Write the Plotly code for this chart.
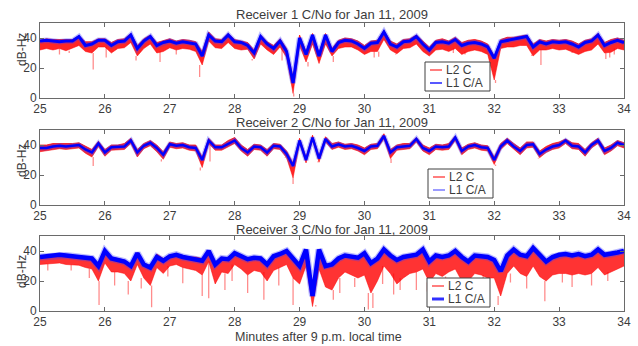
import numpy as np
import plotly.graph_objects as go

# ---------------- data ----------------
# time grid in minutes after 9 p.m. (0.1 min step)
minutes = [round(25.0 + 0.1 * i, 1) for i in range(91)]
x_ticks = [25, 26, 27, 28, 29, 30, 31, 32, 33, 34]
y_ticks = [0, 20, 40]

titles = ["Receiver 1 C/No for Jan 11, 2009",
          "Receiver 2 C/No for Jan 11, 2009",
          "Receiver 3 C/No for Jan 11, 2009"]
series_names = ["L2 C", "L1 C/A"]

# Receiver 1
r1_l1ca = [38, 38.5, 38, 37.5, 38, 38, 41, 35, 36, 38.5,
           38.5, 35, 37.5, 38, 42, 33, 38, 41, 35, 37,
           38, 36.5, 37.5, 37, 36, 28, 42, 38, 37.5, 42,
           37.5, 37, 35, 30, 41, 36, 33, 38, 31, 10,
           40, 29, 42, 28, 42, 31, 37, 38.5, 38, 36,
           33, 36.5, 37, 44, 36, 34, 37.5, 38, 41, 36,
           32, 37, 37.5, 36.5, 39, 35, 36.5, 37, 36, 34,
           26.5, 37.5, 38.5, 39, 40, 41, 34, 37.5, 36, 37.5,
           37, 37.5, 36, 34, 37, 38, 42, 35, 37, 38.5,
           37]
r1_l2c_hi = [38.5, 39.5, 39, 39, 39, 39, 41.5, 37.5, 37.5, 39.5,
             39.5, 37, 39, 39.5, 43, 35, 39.5, 42, 37, 38.5,
             39.5, 38, 39, 38.5, 37.5, 31, 44, 39.5, 39, 43,
             39, 38, 37, 32, 42, 37.5, 35, 39.5, 33, 14,
             42, 31, 43, 30, 43, 33, 38.5, 40, 39.5, 38,
             35, 38, 38.5, 45, 38, 36, 39, 39.5, 42, 38,
             34, 38.5, 39.5, 38, 40.5, 37, 38.5, 39, 38, 36,
             28, 39, 40.5, 40.5, 41.5, 42, 36, 39, 38, 39,
             38.5, 39, 38, 36, 38.5, 39.5, 43, 37, 39, 40,
             38.5]
r1_l2c_lo = [32, 33, 32, 33, 31.5, 33, 35, 31, 30, 34,
             34, 30, 33, 33.5, 37, 28, 33, 36, 30, 31,
             33.5, 32, 33, 32.5, 31, 22, 38, 33.5, 33, 37,
             33, 32, 32.5, 26, 36, 32, 29, 34, 27, 3,
             35, 24, 36, 23, 36, 28, 33, 34, 34, 32,
             29, 31, 31, 39, 32, 29.5, 33, 33.5, 36, 31,
             28, 32, 32.5, 31, 33, 29, 31, 32, 31, 29,
             12, 33, 34, 34, 35, 35, 28, 32, 32, 33,
             32, 32.5, 31, 29, 31, 32, 36, 30, 30.5, 33,
             32]
r1_spike_t = [25.3, 25.45, 25.82, 26.02, 26.48, 26.85, 27.1, 27.46, 28.27, 28.73,
              28.91, 29.13, 29.28, 29.52, 30.15, 30.22, 30.48, 30.97, 31.37, 31.55,
              31.85, 32.02, 32.58, 32.72, 33.2, 33.72, 33.78, 33.85]
r1_spike_min = [29, 30, 19, 27, 25, 24, 29, 14, 25, 25,
                1, 21, 23, 24, 27, 27.5, 29, 28, 30, 29,
                29, 10, 29, 22, 30, 26, 27, 29]

# Receiver 2
r2_l1ca = [38, 38, 39, 39.5, 39, 39.5, 40, 37, 35, 41,
           35, 38.5, 38.5, 39, 43, 35, 39.5, 41.5, 38, 33.5,
           40.5, 39.5, 40, 38.5, 38, 30, 43, 38.5, 38.5, 41,
           43, 38, 35, 39, 38.5, 35, 39.5, 39, 34, 26,
           43, 30, 45, 31, 44, 39, 40.5, 39, 39.5, 38,
           36, 39, 39.5, 46, 35, 38.5, 39, 39.5, 44, 38,
           36, 39, 38.5, 39, 45, 36, 39, 40, 38.5, 38,
           30, 39, 43, 39, 36, 40, 40.5, 34, 37, 39,
           40, 43, 39.5, 39, 35, 40, 43, 36, 38, 41.5,
           40]
r2_l2c_hi = [40, 40, 41, 41, 40.5, 41, 41.5, 39, 37, 42.5,
             37, 40, 40, 41, 44.5, 37, 41, 43, 40, 35.5,
             42, 41, 41.5, 40, 40, 32, 44.5, 40, 40, 43,
             45, 40, 37, 40.5, 40, 37, 41, 40.5, 36, 28,
             44.5, 32, 46.5, 33, 45.5, 41, 42, 40.5, 41, 40,
             38, 40.5, 41, 47.5, 37, 40, 41, 41, 45, 40,
             38, 40.5, 40, 41, 46, 38, 40.5, 41.5, 40, 39.5,
             32, 41, 44.5, 41, 38, 42, 42, 36, 39, 41,
             42, 44, 41.5, 41, 37, 41.5, 44.5, 38, 40, 43,
             41.5]
r2_l2c_lo = [35.5, 36, 37, 37.5, 37, 37.5, 38, 34.5, 32, 39,
             32.5, 36.5, 36.5, 37, 41, 32, 37.5, 39.5, 35.5, 30.5,
             38.5, 37.5, 38, 36.5, 36, 25, 41, 36.5, 36.5, 39,
             41, 36, 32.5, 37, 36.5, 32.5, 37.5, 37, 31.5, 18,
             41, 28, 43, 28.5, 42, 37, 38.5, 37, 37.5, 36,
             33.5, 37, 37.5, 44, 31, 36.5, 37, 37.5, 42, 36,
             33.5, 37, 36.5, 37, 43, 33.5, 37, 38, 36.5, 36,
             27, 37, 41, 37, 33.5, 38, 38.5, 31.5, 35, 37,
             38, 41, 37.5, 37, 32.5, 38, 41, 33.5, 36, 39.5,
             38]
r2_spike_t = [25.82, 26.87, 27.47, 27.62, 28.78, 28.9, 29.14, 29.28, 30.41, 32.02, 32.68]
r2_spike_min = [26, 29, 23, 29, 32, 14, 28, 29, 28, 26, 31]

# Receiver 3
r3_l1ca = [36, 36.5, 37, 37.5, 37, 36.5, 36, 35.5, 35, 30,
           40, 35, 34, 33, 30, 38.5, 31, 29, 36, 33.5,
           36.5, 37.5, 36, 35, 34.5, 33.5, 40, 31, 35, 34.5,
           38.5, 36.5, 34.5, 35.5, 35, 31, 36.5, 38, 40, 35,
           30, 41, 10, 41, 30, 31, 35, 37, 36, 35.5,
           38.5, 32, 35, 41, 37, 34, 36, 37, 37.5, 41,
           33, 37, 36, 37, 40, 36, 33, 37, 36.5, 36,
           34, 26.5, 37, 41, 37.5, 36.5, 42, 37, 33, 36,
           37.5, 38, 37, 38, 36.5, 37.5, 41, 37.5, 38, 39,
           40]
r3_l2c_hi = [36.5, 37, 37.5, 38, 37.5, 37, 37, 36, 35.5, 31,
             41, 36, 35, 34, 31, 39, 32, 30, 38, 35,
             37, 38, 37, 36, 36, 35, 40.5, 32, 36, 35,
             39, 37, 35, 36, 36, 32, 37, 38.5, 40, 36,
             31, 41, 12, 41, 31, 32, 35.5, 37, 36.5, 36,
             39, 33, 35.5, 41, 37.5, 35, 36.5, 37.5, 38, 41,
             34, 37.5, 36.5, 37.5, 40, 36.5, 34, 37.5, 37, 36.5,
             35, 27, 37.5, 41, 38, 37, 42, 37.5, 34, 36.5,
             38, 38.5, 37.5, 38, 37, 38, 41, 38, 38, 39,
             39.5]
r3_l2c_lo = [31, 31.5, 32, 32, 31, 31, 30.5, 29, 28, 20,
             32, 26, 26, 25, 20, 31, 22, 17, 29, 25,
             30, 31, 29, 28, 27, 24, 33, 18, 26, 25,
             31, 28, 24, 27, 26, 20, 27, 29, 31, 22,
             18, 30, 3, 28, 16, 14, 22, 26, 24, 22,
             24, 12, 20, 30, 25, 18, 22, 25, 26, 28,
             19, 25, 23, 26, 28, 20, 20, 25, 24, 22,
             22, 10, 25, 30, 25, 23, 30, 23, 20, 24,
             25, 25, 24, 25, 24, 25, 29, 24, 26, 28,
             30]
r3_spike_t = [25.12, 25.48, 25.76, 25.91, 26.15, 26.36, 26.56, 26.72, 26.97, 27.2,
              27.5, 27.6, 27.85, 27.96, 28.2, 28.45, 28.68, 28.9, 29.17, 29.25,
              29.52, 29.62, 29.85, 30.06, 30.13, 30.28, 30.45, 30.55, 30.8, 30.97,
              31.25, 31.5, 31.65, 31.83, 32.06, 32.25, 32.5, 32.78, 33.05, 33.2,
              33.5, 33.75]
r3_spike_min = [27, 27, 22, 4, 17, 11, 15, 2.5, 23, 18.5,
                10, 8.5, 14, 20, 12, 7.5, 17, 4, 3, 4,
                7.5, 12, 16, 1, 2, 18, 11, 14, 14, 13,
                18, 13, 17, 16, 4, 19, 15, 6.5, 19, 16,
                17, 20]

panels = [
    (r1_l1ca, r1_l2c_hi, r1_l2c_lo, r1_spike_t, r1_spike_min),
    (r2_l1ca, r2_l2c_hi, r2_l2c_lo, r2_spike_t, r2_spike_min),
    (r3_l1ca, r3_l2c_hi, r3_l2c_lo, r3_spike_t, r3_spike_min),
]

# ---------------- styling / layout ----------------
W, H = 638, 346
FONT = "Liberation Sans, Arial, Helvetica, sans-serif"
TXT = "#3c3c3c"
AXC = "#6a6a6a"

x_dom = [40 / W, 624 / W]
y_px = [(23, 98), (130, 205), (236, 311)]
title_py = [14, 122, 230]
ylab_py = [50, 161, 272]
band_alpha = [0.85, 0.85, 0.8]
blue_w = [3, 2.5, 4.5]
# manual legend boxes: (left, top, right, bottom, row1 y, row2 y)
leg_box = [(425, 62, 490, 91, 70, 83), (428, 169, 493, 198, 177, 190),
           (427, 278, 490, 307, 286, 299)]
blue_leg = ["#2020ff", "#7a7aff", "#3030ff"]
blue_leg_w = [1.5, 1.5, 3]


def px(x):
    return x / W


def py(y):
    return 1 - y / H


fig = go.Figure()
annotations = []
shapes = []
layout = {}

for k, (b, rhi, rlo, st, smin) in enumerate(panels):
    n = k + 1
    xa = "x" if n == 1 else f"x{n}"
    ya = "y" if n == 1 else f"y{n}"

    # thin L2 C spikes (from band bottom down to min)
    sx, sy = [], []
    for t, m in zip(st, smin):
        idx = int(round((t - minutes[0]) / 0.1))
        sx += [t, t, None]
        sy += [rlo[idx], m, None]
    fig.add_trace(go.Scatter(x=sx, y=sy, mode="lines", xaxis=xa, yaxis=ya,
                             line=dict(color="rgba(255,0,0,0.45)", width=1.3),
                             showlegend=False, hoverinfo="skip"))
    # L2 C dense band
    fig.add_trace(go.Scatter(x=minutes, y=rlo, mode="lines", xaxis=xa, yaxis=ya,
                             line=dict(color="rgba(255,0,0,0.5)", width=1),
                             showlegend=False, hoverinfo="skip"))
    fig.add_trace(go.Scatter(x=minutes, y=rhi, mode="lines", xaxis=xa, yaxis=ya,
                             fill="tonexty",
                             fillcolor=f"rgba(255,0,0,{band_alpha[k]})",
                             line=dict(color="rgba(255,0,0,0.9)", width=0.8),
                             name=series_names[0], showlegend=False))
    # L1 C/A: soft halo + core line
    fig.add_trace(go.Scatter(x=minutes, y=b, mode="lines", xaxis=xa, yaxis=ya,
                             line=dict(color="rgba(60,60,255,0.35)", width=blue_w[k] + 2.5),
                             showlegend=False, hoverinfo="skip"))
    fig.add_trace(go.Scatter(x=minutes, y=b, mode="lines", xaxis=xa, yaxis=ya,
                             line=dict(color="#0000ff", width=blue_w[k]),
                             name=series_names[1], showlegend=False))

    y0, y1 = y_px[k]
    axis_common = dict(showline=True, linecolor=AXC, linewidth=1, mirror="allticks",
                       ticks="inside", ticklen=4, tickcolor=AXC, showgrid=False,
                       zeroline=False, automargin=False,
                       tickfont=dict(family=FONT, size=12, color=TXT))
    layout["xaxis" if n == 1 else f"xaxis{n}"] = dict(
        domain=x_dom, anchor=ya, range=[25, 34], tickvals=x_ticks, **axis_common)
    layout["yaxis" if n == 1 else f"yaxis{n}"] = dict(
        domain=[py(y1), py(y0)], anchor=xa, range=[0, 50],
        tickvals=y_ticks, **axis_common)

    # legend (box, line samples, labels)
    L, T, R, B, ra, rb = leg_box[k]
    shapes.append(dict(type="rect", xref="paper", yref="paper",
                       x0=px(L), x1=px(R), y0=py(B), y1=py(T),
                       line=dict(color="#404040", width=1), fillcolor="white"))
    shapes.append(dict(type="line", xref="paper", yref="paper",
                       x0=px(L + 5), x1=px(L + 17), y0=py(ra), y1=py(ra),
                       line=dict(color="rgba(255,40,40,0.8)", width=1.5)))
    shapes.append(dict(type="line", xref="paper", yref="paper",
                       x0=px(L + 5), x1=px(L + 17), y0=py(rb), y1=py(rb),
                       line=dict(color=blue_leg[k], width=blue_leg_w[k])))
    for name, ry in zip(series_names, (ra, rb)):
        annotations.append(dict(text=name, x=px(L + 19), y=py(ry), xref="paper",
                                yref="paper", showarrow=False, xanchor="left",
                                yanchor="middle",
                                font=dict(family=FONT, size=12, color=TXT)))

    annotations.append(dict(text=titles[k], x=px(332), y=py(title_py[k]),
                            xref="paper", yref="paper", showarrow=False,
                            xanchor="center", yanchor="middle",
                            font=dict(family=FONT, size=13, color=TXT)))
    annotations.append(dict(text="dB-Hz", x=px(22), y=py(ylab_py[k]),
                            xref="paper", yref="paper", showarrow=False,
                            textangle=-90, xanchor="center", yanchor="middle",
                            font=dict(family=FONT, size=12, color=TXT)))

annotations.append(dict(text="Minutes after 9 p.m. local time", x=px(318), y=py(337),
                        xref="paper", yref="paper", showarrow=False,
                        xanchor="center", yanchor="middle",
                        font=dict(family=FONT, size=12.5, color=TXT)))

fig.update_layout(width=W, height=H, margin=dict(l=0, r=0, t=0, b=0, autoexpand=False),
                  paper_bgcolor="white", plot_bgcolor="white", showlegend=False,
                  annotations=annotations, shapes=shapes, **layout)

# remove the default page margin so the figure sits at the window's top-left
fig.write_html("out.html", config={"displayModeBar": False},
               post_script="document.body.style.margin='0';"
                           "document.body.style.overflow='hidden';")
